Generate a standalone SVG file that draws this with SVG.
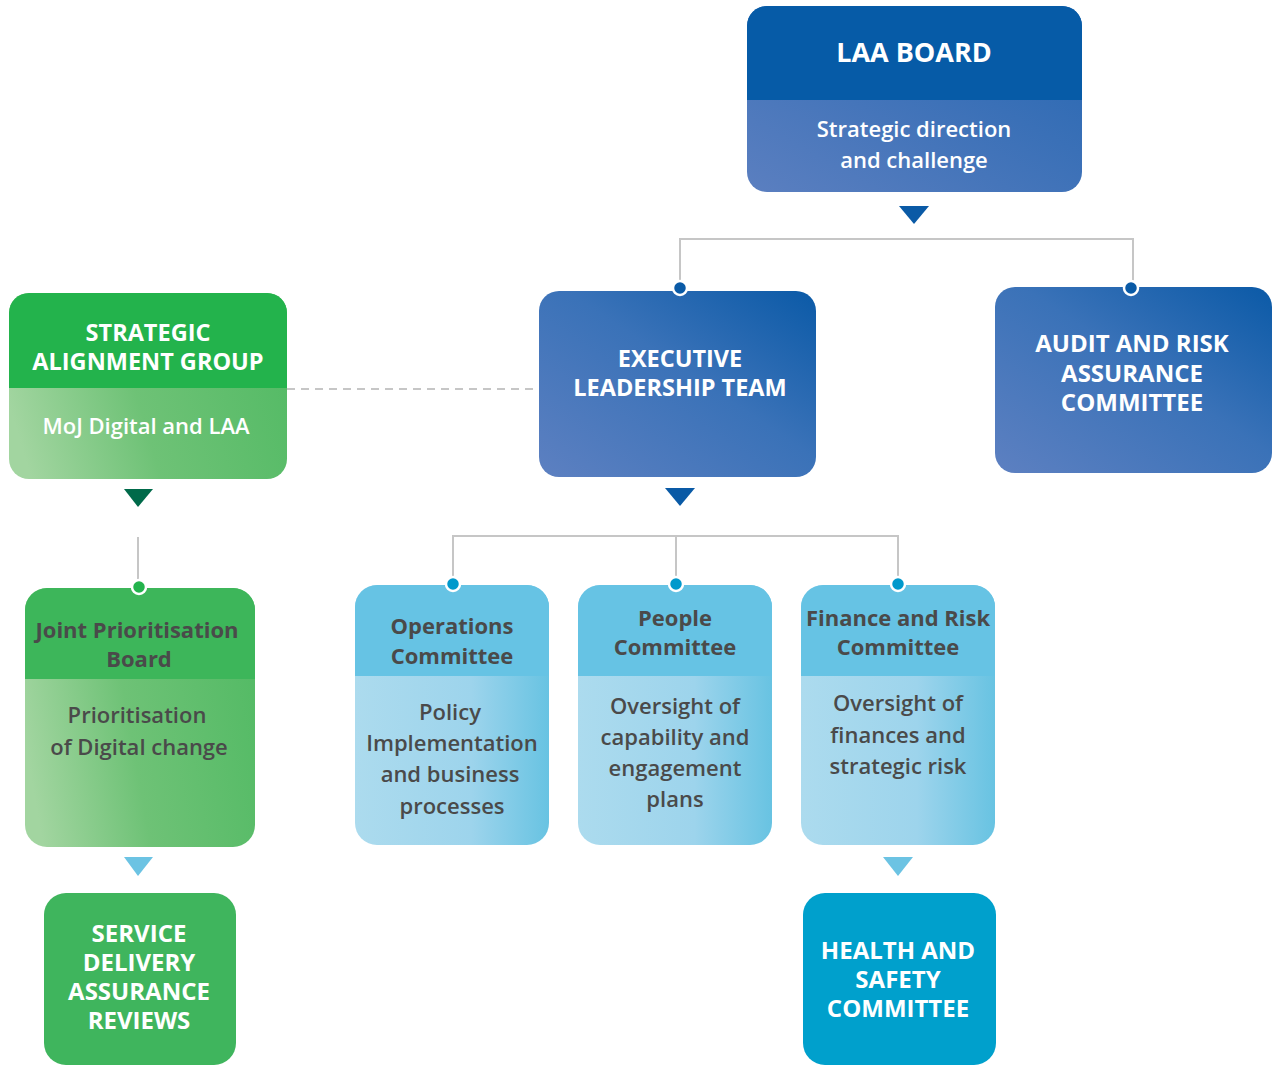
<svg xmlns="http://www.w3.org/2000/svg" width="1275" height="1066" viewBox="0 0 1275 1066">
<defs>
<linearGradient id="gBlue" x1="0" y1="1" x2="1" y2="0">
<stop offset="0" stop-color="#5d80c1"/>
<stop offset="0.55" stop-color="#3a72b8"/>
<stop offset="1" stop-color="#0b5aa7"/>
</linearGradient>
<linearGradient id="gBlueLow" x1="0" y1="1" x2="1" y2="0">
<stop offset="0" stop-color="#5b7fc0"/>
<stop offset="1" stop-color="#2466b1"/>
</linearGradient>
<linearGradient id="gGreen" x1="0" y1="0.6" x2="1" y2="0.4">
<stop offset="0" stop-color="#a2d5a0"/>
<stop offset="0.45" stop-color="#6ec276"/>
<stop offset="1" stop-color="#55bb66"/>
</linearGradient>
<linearGradient id="gCyan" x1="0" y1="0.5" x2="1" y2="0.5">
<stop offset="0" stop-color="#acdbee"/>
<stop offset="0.6" stop-color="#9dd4ec"/>
<stop offset="1" stop-color="#68c3e2"/>
</linearGradient>
<style>
.conn{fill:none;stroke:#c6c6c6;stroke-width:2}
.dash{fill:none;stroke:#c6c6c6;stroke-width:2;stroke-dasharray:8 6}
.dot{stroke:#ffffff;stroke-width:2.5}
.wt{fill:#ffffff;font-family:"Open Sans","Noto Sans",sans-serif;font-weight:700;text-anchor:middle;font-size:23.5px}
.ws{fill:#ffffff;font-family:"Open Sans","Noto Sans",sans-serif;font-weight:600;text-anchor:middle;font-size:22px}
.dt{fill:#4a4a4a;font-family:"Open Sans","Noto Sans",sans-serif;font-weight:700;text-anchor:middle;font-size:22px}
.ds{fill:#4a4a4a;font-family:"Open Sans","Noto Sans",sans-serif;font-weight:600;text-anchor:middle;font-size:22px}
</style>
</defs>
<rect width="1275" height="1066" fill="#ffffff"/>

<g id="connectors">
<path class="conn" d="M680,287 V239 H1133 V287"/>
<path class="dash" d="M287,389 H539"/>
<path class="conn" d="M453,583 V536 H898 V583 M676,536 V583"/>
<path class="conn" d="M138,537 V585"/>
<polygon points="899,206 929,206 914,224" fill="#0a5aa6"/>
<polygon points="665,488 695,488 680,506" fill="#0a5aa6"/>
<polygon points="124,489 153,489 138,507" fill="#006a4a"/>
<polygon points="124,857 153,857 138,876" fill="#6cc3e3"/>
<polygon points="883,857 913,857 898,876" fill="#6cc3e3"/>
</g>

<g id="laa-board">
<rect x="747" y="6" width="335" height="186" rx="20" fill="url(#gBlueLow)"/>
<path d="M747,100 V26 A20,20 0 0 1 767,6 H1062 A20,20 0 0 1 1082,26 V100 Z" fill="#065ba7"/>
<text class="wt" x="914" y="62" style="font-size:27px">LAA BOARD</text>
<text class="ws" x="914" y="137">Strategic direction</text>
<text class="ws" x="914" y="168">and challenge</text>
</g>

<g id="strategic-alignment-group">
<rect x="9" y="293" width="278" height="186" rx="20" fill="url(#gGreen)"/>
<path d="M9,388 V313 A20,20 0 0 1 29,293 H267 A20,20 0 0 1 287,313 V388 Z" fill="#23b34c"/>
<text class="wt" x="148" y="341">STRATEGIC</text>
<text class="wt" x="148" y="370">ALIGNMENT GROUP</text>
<text class="ws" x="146" y="434">MoJ Digital and LAA</text>
</g>

<g id="executive-leadership-team">
<rect x="539" y="291" width="277" height="186" rx="20" fill="url(#gBlue)"/>
<text class="wt" x="680" y="367">EXECUTIVE</text>
<text class="wt" x="680" y="396">LEADERSHIP TEAM</text>
<circle class="dot" cx="680" cy="288" r="7" fill="#0a5aa6"/>
</g>

<g id="audit-risk">
<rect x="995" y="287" width="277" height="186" rx="20" fill="url(#gBlue)"/>
<text class="wt" x="1132" y="352" style="font-size:24px">AUDIT AND RISK</text>
<text class="wt" x="1132" y="382" style="font-size:24px">ASSURANCE</text>
<text class="wt" x="1132" y="411" style="font-size:24px">COMMITTEE</text>
<circle class="dot" cx="1131" cy="288" r="7" fill="#0a5aa6"/>
</g>

<g id="joint-prioritisation-board">
<rect x="25" y="588" width="230" height="259" rx="22" fill="url(#gGreen)"/>
<path d="M25,679 V610 A22,22 0 0 1 47,588 H233 A22,22 0 0 1 255,610 V679 Z" fill="#3db65a"/>
<text class="dt" x="137" y="638">Joint Prioritisation</text>
<text class="dt" x="139" y="667">Board</text>
<text class="ds" x="137" y="723">Prioritisation</text>
<text class="ds" x="139" y="755">of Digital change</text>
<circle class="dot" cx="139" cy="587" r="7" fill="#23b34c"/>
</g>

<g id="service-delivery">
<rect x="44" y="893" width="192" height="172" rx="22" fill="#3fb55d"/>
<text class="wt" x="139" y="942" style="font-size:24px">SERVICE</text>
<text class="wt" x="139" y="971" style="font-size:24px">DELIVERY</text>
<text class="wt" x="139" y="1000" style="font-size:24px">ASSURANCE</text>
<text class="wt" x="139" y="1029" style="font-size:24px">REVIEWS</text>
</g>

<g id="operations-committee">
<rect x="355" y="585" width="194" height="260" rx="22" fill="url(#gCyan)"/>
<path d="M355,676 V607 A22,22 0 0 1 377,585 H527 A22,22 0 0 1 549,607 V676 Z" fill="#66c3e4"/>
<text class="dt" x="452" y="634">Operations</text>
<text class="dt" x="452" y="664">Committee</text>
<text class="ds" x="450" y="720">Policy</text>
<text class="ds" x="452" y="751">Implementation</text>
<text class="ds" x="450" y="782">and business</text>
<text class="ds" x="452" y="814">processes</text>
<circle class="dot" cx="453" cy="584" r="7" fill="#0099cc"/>
</g>

<g id="people-committee">
<rect x="578" y="585" width="194" height="260" rx="22" fill="url(#gCyan)"/>
<path d="M578,676 V607 A22,22 0 0 1 600,585 H750 A22,22 0 0 1 772,607 V676 Z" fill="#66c3e4"/>
<text class="dt" x="675" y="626">People</text>
<text class="dt" x="675" y="655">Committee</text>
<text class="ds" x="675" y="714">Oversight of</text>
<text class="ds" x="675" y="745">capability and</text>
<text class="ds" x="675" y="776">engagement</text>
<text class="ds" x="675" y="807">plans</text>
<circle class="dot" cx="676" cy="584" r="7" fill="#0099cc"/>
</g>

<g id="finance-risk-committee">
<rect x="801" y="585" width="194" height="260" rx="22" fill="url(#gCyan)"/>
<path d="M801,676 V607 A22,22 0 0 1 823,585 H973 A22,22 0 0 1 995,607 V676 Z" fill="#66c3e4"/>
<text class="dt" x="898" y="626">Finance and Risk</text>
<text class="dt" x="898" y="655">Committee</text>
<text class="ds" x="898" y="711">Oversight of</text>
<text class="ds" x="898" y="743">finances and</text>
<text class="ds" x="898" y="774">strategic risk</text>
<circle class="dot" cx="898" cy="584" r="7" fill="#0099cc"/>
</g>

<g id="health-safety">
<rect x="803" y="893" width="193" height="172" rx="22" fill="#00a0cc"/>
<text class="wt" x="898" y="959" style="font-size:24px">HEALTH AND</text>
<text class="wt" x="898" y="988" style="font-size:24px">SAFETY</text>
<text class="wt" x="898" y="1017" style="font-size:24px">COMMITTEE</text>
</g>
</svg>
